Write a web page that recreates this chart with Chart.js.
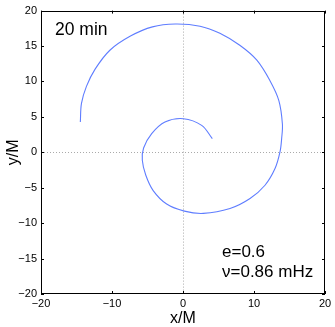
<!DOCTYPE html>
<html>
<head>
<meta charset="utf-8">
<script src="https://cdn.jsdelivr.net/npm/chart.js@4"></script>
<style>
  html, body { margin: 0; padding: 0; background: #fff; }
  #wrap { width: 335px; height: 327px; }
</style>
</head>
<body>
<div id="wrap"><canvas id="orbit-canvas" width="335" height="327"></canvas></div>
<script>
// orbit track (x/M, y/M), outer end -> inner end
const orbitX = [-14.46, -14.3, -13.6, -12.4, -10.3, -7.4, -4.3, -1.1, 2.4, 5.2, 8.0, 10.4, 12.25, 13.5, 14.0, 13.9, 13.66, 12.96, 11.55, 9.44, 6.62, 2.86, 0.2, -2.3, -4.2, -5.25, -5.73, -5.55, -4.41, -2.54, 0.05, 2.63, 4.13];
const orbitY = [4.27, 6.9, 9.3, 11.7, 14.4, 16.4, 17.7, 18.1, 17.8, 16.8, 15.1, 13.0, 10.1, 7.3, 4.0, 2.0, 0.05, -2.3, -4.65, -6.52, -7.93, -8.62, -8.3, -7.3, -5.4, -3.2, -1.13, 0.6, 2.63, 4.27, 4.74, 3.8, 1.92];

const xTicks = [-20, -10, 0, 10, 20];
const yTicks = [-20, -15, -10, -5, 0, 5, 10, 15, 20];
const timeLabel = "20 min";
const infoLabels = ["e=0.6", "\u03bd=0.86 mHz"];

const FONT = "'Liberation Sans', Arial, sans-serif";

function minus(v) {
    return String(v).replace("-", "\u2212");
}

const framePlugin = {
    id: "frame",
    beforeDatasetsDraw(chart) {
        const { ctx, chartArea: a, scales } = chart;
        const x0 = scales.x.getPixelForValue(0);
        const y0 = scales.y.getPixelForValue(0);
        ctx.save();
        ctx.strokeStyle = "#aaaaaa";
        ctx.lineWidth = 1;
        ctx.setLineDash([1, 2]);
        ctx.beginPath();
        ctx.moveTo(Math.round(x0) + 0.5, a.top);
        ctx.lineTo(Math.round(x0) + 0.5, a.bottom);
        ctx.moveTo(a.left, Math.round(y0) + 0.5);
        ctx.lineTo(a.right, Math.round(y0) + 0.5);
        ctx.stroke();
        ctx.restore();
    },
    afterDatasetsDraw(chart) {
        const { ctx, chartArea: a, scales } = chart;
        ctx.save();
        ctx.strokeStyle = "#000";
        ctx.lineWidth = 1;
        ctx.strokeRect(Math.round(a.left) + 0.5, Math.round(a.top) + 0.5,
            Math.round(a.right - a.left) - 1, Math.round(a.bottom - a.top) - 1);
        const t = 3;
        ctx.beginPath();
        xTicks.forEach((v) => {
            const px = Math.round(scales.x.getPixelForValue(v)) + 0.5;
            ctx.moveTo(px, a.bottom);
            ctx.lineTo(px, a.bottom - t);
            ctx.moveTo(px, a.top);
            ctx.lineTo(px, a.top + t);
        });
        yTicks.forEach((v) => {
            const py = Math.round(scales.y.getPixelForValue(v)) + 0.5;
            ctx.moveTo(a.left, py);
            ctx.lineTo(a.left + t, py);
            ctx.moveTo(a.right, py);
            ctx.lineTo(a.right - t, py);
        });
        ctx.stroke();

        ctx.fillStyle = "#000";
        ctx.textBaseline = "alphabetic";
        ctx.textAlign = "left";
        ctx.font = "17.5px " + FONT;
        ctx.fillText(timeLabel, a.left + 14, a.top + 24.5);
        ctx.font = "17px " + FONT;
        infoLabels.forEach((s, i) => {
            ctx.fillText(s, a.left + 181, a.bottom - 37.5 + i * 20);
        });
        ctx.restore();
    },
};

const data = {
    datasets: [
        {
            label: "orbit",
            data: orbitX.map((x, i) => ({ x: x, y: orbitY[i] })),
            showLine: true,
            fill: false,
            borderColor: "rgb(95, 125, 255)",
            borderWidth: 1.1,
            pointRadius: 0,
            tension: 0.35,
        },
    ],
};

const config = {
    type: "scatter",
    data: data,
    options: {
        responsive: false,
        devicePixelRatio: 1,
        animation: false,
        layout: { padding: { top: 10, right: 10, left: 0, bottom: 0 } },
        plugins: {
            legend: { display: false },
            tooltip: { enabled: false },
        },
        scales: {
            x: {
                type: "linear",
                min: -20,
                max: 20,
                grid: { display: false, drawTicks: false, tickLength: 0 },
                border: { display: false },
                afterBuildTicks: (scale) => {
                    scale.ticks = xTicks.map((v) => ({ value: v }));
                },
                afterFit: (scale) => {
                    scale.height = 33;
                },
                ticks: {
                    color: "#000",
                    padding: 3,
                    maxRotation: 0,
                    font: { family: FONT, size: 11 },
                    callback: (v) => minus(v),
                },
                title: {
                    display: true,
                    text: "x/M",
                    color: "#000",
                    padding: 0,
                    font: { family: FONT, size: 16, lineHeight: 1 },
                },
            },
            y: {
                type: "linear",
                min: -20,
                max: 20,
                grid: { display: false, drawTicks: false, tickLength: 0 },
                border: { display: false },
                afterBuildTicks: (scale) => {
                    scale.ticks = yTicks.map((v) => ({ value: v }));
                },
                afterFit: (scale) => {
                    scale.width = 41;
                },
                ticks: {
                    color: "#000",
                    padding: 4,
                    font: { family: FONT, size: 11 },
                    callback: (v) => minus(v),
                },
                title: {
                    display: true,
                    text: "y/M",
                    color: "#000",
                    padding: { top: 4, bottom: 0 },
                    font: { family: FONT, size: 16, lineHeight: 1.2 },
                },
            },
        },
    },
    plugins: [framePlugin],
};

const orbitCanvas = document.querySelector("#orbit-canvas");
const myChart = new Chart(orbitCanvas, config);
</script>
</body>
</html>
